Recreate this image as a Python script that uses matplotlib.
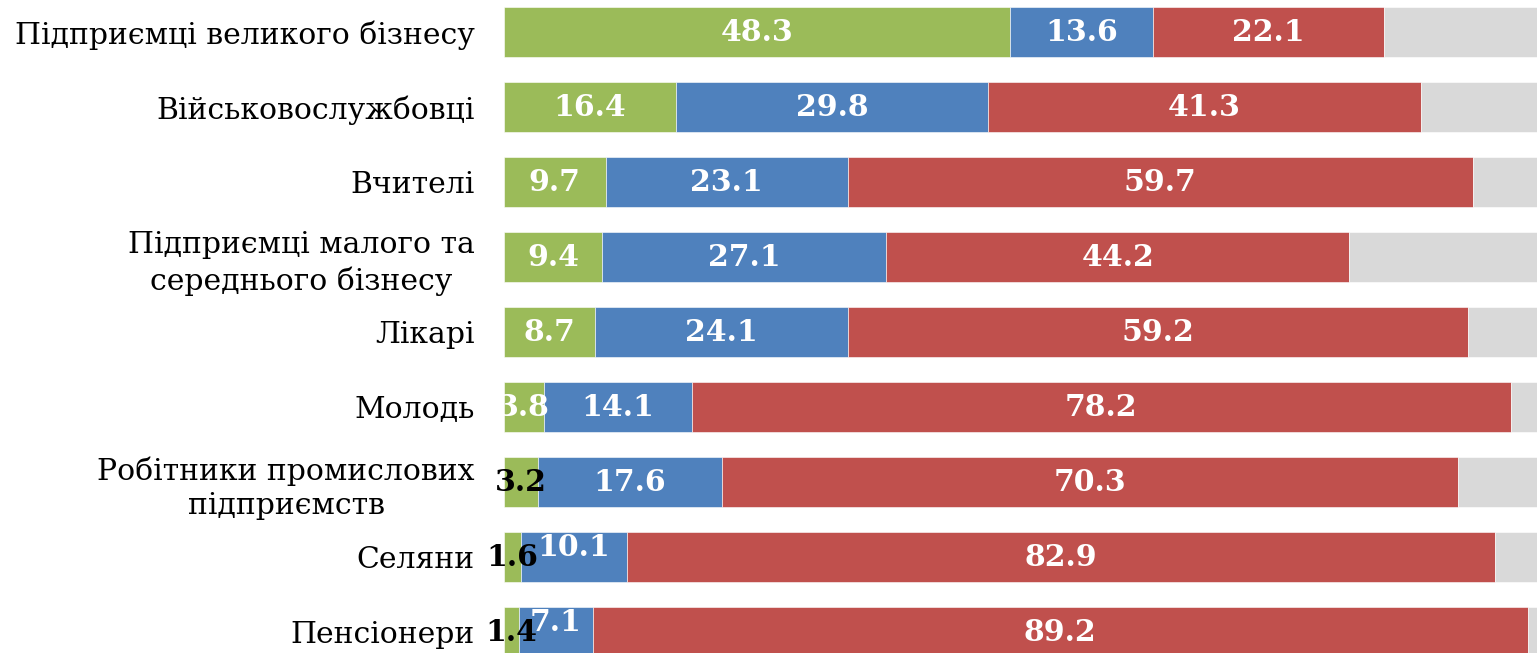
import numpy as np
import matplotlib.pyplot as plt

categories = ['Підприємці великого бізнесу', 'Військовослужбовці', 'Вчителі',
              'Підприємці малого та\nсереднього бізнесу', 'Лікарі', 'Молодь',
              'Робітники промислових\nпідприємств', 'Селяни', 'Пенсіонери']
green = [48.3, 16.4, 9.7, 9.4, 8.7, 3.8, 3.2, 1.6, 1.4]
blue = [13.6, 29.8, 23.1, 27.1, 24.1, 14.1, 17.6, 10.1, 7.1]
red = [22.1, 41.3, 59.7, 44.2, 59.2, 78.2, 70.3, 82.9, 89.2]

green = np.array(green)
blue = np.array(blue)
red = np.array(red)
grey = 100 - green - blue - red

c_green = '#9bbb59'
c_blue = '#4f81bd'
c_red = '#c0504d'
c_grey = '#d9d9d9'

plt.rcParams['font.family'] = ['DejaVu Serif']

fig = plt.figure(figsize=(15.37, 6.53), dpi=100)
ax = fig.add_axes([504/1537, 0, 1 - 504/1537, 1])

y = np.arange(len(categories))
h = 0.667
ax.barh(y, green, height=h, color=c_green, edgecolor='white', linewidth=0.4)
ax.barh(y, blue, left=green, height=h, color=c_blue, edgecolor='white', linewidth=0.4)
ax.barh(y, red, left=green + blue, height=h, color=c_red, edgecolor='white', linewidth=0.4)
ax.barh(y, grey, left=green + blue + red, height=h, color=c_grey, edgecolor='white', linewidth=0.4)

lab_kw = dict(ha='center', va='center', fontsize=21.5, fontweight='bold')

for i in range(len(categories)):
    # small green values are written in black
    gcol = 'black' if green[i] < 3.5 else 'white'
    ax.text(green[i] / 2, i, f'{green[i]:.1f}', color=gcol, **lab_kw)
    dy = 7 if blue[i] < 12 else 0
    ax.annotate(f'{blue[i]:.1f}', (green[i] + blue[i] / 2, i), xytext=(0, dy),
                textcoords='offset points', color='white', **lab_kw)
    ax.text(green[i] + blue[i] + red[i] / 2, i, f'{red[i]:.1f}', color='white', **lab_kw)

ax.set_xlim(0, 98.6)
ax.set_ylim(8.28, -0.427)
ax.set_yticks(y)
ax.set_yticklabels(categories, fontsize=21.5, multialignment='center', linespacing=1.3)
ax.tick_params(axis='y', length=0, pad=21)
ax.set_xticks([])
for s in ax.spines.values():
    s.set_visible(False)

plt.savefig('out.png', dpi=100)
